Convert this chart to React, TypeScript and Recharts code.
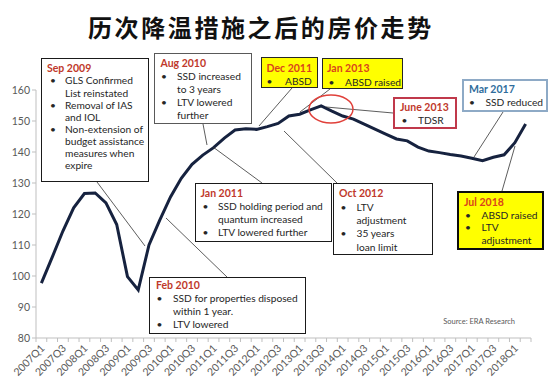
import { LineChart, Line, XAxis, YAxis } from 'recharts';

// quarterly index values, 2007Q1 .. 2018Q2
const quarters = [
  '2007Q1', '2007Q2', '2007Q3', '2007Q4',
  '2008Q1', '2008Q2', '2008Q3', '2008Q4',
  '2009Q1', '2009Q2', '2009Q3', '2009Q4',
  '2010Q1', '2010Q2', '2010Q3', '2010Q4',
  '2011Q1', '2011Q2', '2011Q3', '2011Q4',
  '2012Q1', '2012Q2', '2012Q3', '2012Q4',
  '2013Q1', '2013Q2', '2013Q3', '2013Q4',
  '2014Q1', '2014Q2', '2014Q3', '2014Q4',
  '2015Q1', '2015Q2', '2015Q3', '2015Q4',
  '2016Q1', '2016Q2', '2016Q3', '2016Q4',
  '2017Q1', '2017Q2', '2017Q3', '2017Q4',
  '2018Q1', '2018Q2',
];

const priceIndex = [
  97.7, 106, 114.5, 122,
  126.6, 126.8, 123.6, 116.6,
  99.8, 95.5, 110, 118,
  125.5, 131.5, 136, 139,
  141.4, 144.5, 147.1, 147.5,
  147.3, 148.2, 149.2, 151.6,
  152.2, 153.6, 154.9, 153.2,
  151.6, 150.6, 149, 147.4,
  145.8, 144.2, 143.6, 141.6,
  140.3, 139.8, 139.2, 138.7,
  138, 137.2, 138.3, 139.1,
  143, 149,
];

const yTicks = [80, 90, 100, 110, 120, 130, 140, 150, 160];

const data = quarters.map((q, i) => ({ q, value: priceIndex[i] }));

const W = 554;
const H = 385;
const PLOT_L = 36;
const PLOT_R = 531;
const BAND = (PLOT_R - PLOT_L) / quarters.length;

const FONT = 'Lato, "Open Sans", sans-serif';
const RED = '#c0392b';
const ORANGE = '#d9441c';

// custom x tick: tick mark at each category boundary, label every 2nd quarter
function QuarterTick({ x, y, payload, index }: any) {
  const i = payload?.index ?? index;
  const left = x - BAND / 2;
  const ax = x + 4;
  const ay = y + 11;
  return (
    <g>
      <line x1={left} y1={y} x2={left} y2={y + 4} stroke="#bfbfbf" />
      {i === quarters.length - 1 && (
        <line x1={x + BAND / 2} y1={y} x2={x + BAND / 2} y2={y + 4} stroke="#bfbfbf" />
      )}
      {i % 2 === 0 && (
        <text
          x={ax}
          y={ay}
          transform={`rotate(-45, ${ax}, ${ay})`}
          textAnchor="end"
          fontSize={10.5}
          fontFamily={FONT}
          fill="#595959"
        >
          {payload.value}
        </text>
      )}
    </g>
  );
}

interface Note {
  l: number; t: number; r: number; b: number;
  fill: string; border: string; bw: number;
  title: string; titleColor: string;
  tx: number; bx: number; x: number;
  y0: number; lh: number;
  lines: [string, string][];
}

const notes: Note[] = [
  {
    l: 41, t: 58, r: 149, b: 182, fill: '#fff', border: '#1a1a1a', bw: 1.5,
    title: 'Sep 2009', titleColor: RED, tx: 47, bx: 50, x: 65, y0: 68.3, lh: 12.1,
    lines: [['•', 'GLS Confirmed'], ['', 'List reinstated'], ['•', 'Removal of IAS'], ['', 'and IOL'],
      ['•', 'Non-extension of'], ['', 'budget assistance'], ['', 'measures when'], ['', 'expire']],
  },
  {
    l: 154, t: 53, r: 252, b: 124, fill: '#fff', border: '#595959', bw: 1,
    title: 'Aug 2010', titleColor: RED, tx: 160.5, bx: 161, x: 177, y0: 63, lh: 12.9,
    lines: [['•', 'SSD increased'], ['', 'to 3 years'], ['•', 'LTV lowered'], ['', 'further']],
  },
  {
    l: 261, t: 57, r: 318, b: 88, fill: '#ffff00', border: '#262626', bw: 1.5,
    title: 'Dec 2011', titleColor: ORANGE, tx: 266.5, bx: 266.5, x: 285, y0: 67.7, lh: 13.3,
    lines: [['•', 'ABSD']],
  },
  {
    l: 322, t: 58, r: 403, b: 89, fill: '#ffff00', border: '#262626', bw: 1.5,
    title: 'Jan 2013', titleColor: ORANGE, tx: 327, bx: 328.5, x: 345, y0: 68.3, lh: 13.4,
    lines: [['•', 'ABSD raised']],
  },
  {
    l: 393, t: 97, r: 457, b: 129, fill: '#fff', border: '#c0394b', bw: 2,
    title: 'June 2013', titleColor: RED, tx: 400, bx: 401.5, x: 418, y0: 106.7, lh: 13.3,
    lines: [['•', 'TDSR']],
  },
  {
    l: 462, t: 79, r: 548, b: 112, fill: '#fff', border: '#8eaac6', bw: 2,
    title: 'Mar 2017', titleColor: '#2f6d9c', tx: 469, bx: 469, x: 485.5, y0: 89.3, lh: 13,
    lines: [['•', 'SSD reduced']],
  },
  {
    l: 457, t: 191, r: 544, b: 250, fill: '#ffff00', border: '#0d0d0d', bw: 2.5,
    title: 'Jul 2018', titleColor: ORANGE, tx: 464, bx: 465, x: 481.5, y0: 201.7, lh: 12.8,
    lines: [['•', 'ABSD raised'], ['•', 'LTV'], ['', 'adjustment']],
  },
  {
    l: 195, t: 183, r: 332, b: 242, fill: '#fff', border: '#1a1a1a', bw: 1.5,
    title: 'Jan 2011', titleColor: RED, tx: 200.5, bx: 202.5, x: 218, y0: 193.3, lh: 13,
    lines: [['•', 'SSD holding period and'], ['', 'quantum increased'], ['•', 'LTV lowered further']],
  },
  {
    l: 333, t: 183, r: 433, b: 255, fill: '#fff', border: '#1a1a1a', bw: 1.5,
    title: 'Oct 2012', titleColor: RED, tx: 339, bx: 340.5, x: 356.5, y0: 193.3, lh: 13.3,
    lines: [['•', 'LTV'], ['', 'adjustment'], ['•', '35 years'], ['', 'loan limit']],
  },
  {
    l: 149, t: 277, r: 306, b: 334, fill: '#fff', border: '#1a1a1a', bw: 1.5,
    title: 'Feb 2010', titleColor: RED, tx: 156, bx: 156.5, x: 173, y0: 285, lh: 13.1,
    lines: [['•', 'SSD for properties disposed'], ['', 'within 1 year.'], ['•', 'LTV lowered']],
  },
];

// leader lines from each note to the curve
const leaders = [
  [97, 182, 145, 246],
  [203, 124, 207, 145],
  [292, 88, 259, 126],
  [330, 89, 300, 112],
  [393, 113, 326, 107],
  [503, 112, 474, 157],
  [502, 191, 515, 146],
  [262, 183, 213, 147],
  [337, 183, 284, 131],
  [227, 277, 166, 218],
];

function NoteBox({ n }: { n: Note }) {
  const row = (key: string, left: number, cy: number, text: string, color: string, bold = false) => (
    <div
      key={key}
      style={{
        position: 'absolute', left, top: cy - 7, height: 14, lineHeight: '14px',
        fontFamily: FONT, fontSize: bold ? 10.5 : 10.2, color, fontWeight: bold ? 700 : 400, whiteSpace: 'nowrap',
      }}
    >
      {text}
    </div>
  );
  return (
    <>
      <div
        style={{
          position: 'absolute', left: n.l, top: n.t, width: n.r - n.l, height: n.b - n.t,
          boxSizing: 'border-box', background: n.fill, border: `${n.bw}px solid ${n.border}`,
        }}
      />
      {row('t', n.tx, n.y0, n.title, n.titleColor, true)}
      {n.lines.map(([bullet, text], k) => (
        <span key={k}>
          {bullet && row(`b${k}`, n.bx, n.y0 + (k + 1) * n.lh, bullet, '#262626')}
          {row(`x${k}`, n.x, n.y0 + (k + 1) * n.lh, text, '#262626')}
        </span>
      ))}
    </>
  );
}

export default function App() {
  return (
    <div style={{ position: 'absolute', left: 0, top: 0, width: W, height: H, background: '#fff', overflow: 'hidden' }}>
      <div
        style={{
          position: 'absolute', left: 88, top: 14, height: 26, lineHeight: '26px',
          fontFamily: '"Noto Sans CJK SC", sans-serif', fontWeight: 700, fontSize: 24,
          letterSpacing: 2.6, color: '#111', whiteSpace: 'nowrap',
        }}
      >
        历次降温措施之后的房价走势
      </div>

      <div style={{ position: 'absolute', left: 0, top: 0 }}>
        <LineChart width={W} height={H} data={data} margin={{ top: 90, right: W - PLOT_R, left: PLOT_L - 30, bottom: 7 }}>
          <XAxis
            dataKey="q"
            interval={0}
            height={40}
            tickSize={0}
            tickMargin={0}
            tickLine={false}
            axisLine={{ stroke: '#bfbfbf' }}
            padding={{ left: BAND / 2, right: BAND / 2 }}
            tick={<QuarterTick />}
          />
          <YAxis
            width={30}
            domain={[80, 160]}
            ticks={yTicks}
            interval={0}
            tickSize={4}
            tickMargin={2}
            axisLine={{ stroke: '#bfbfbf' }}
            tickLine={{ stroke: '#bfbfbf' }}
            tick={{ fontSize: 10.5, fontFamily: FONT, fill: '#595959' }}
          />
          <Line
            type="linear"
            dataKey="value"
            stroke="#16223f"
            strokeWidth={3}
            dot={false}
            isAnimationActive={false}
          />
        </LineChart>
      </div>

      <svg width={W} height={H} style={{ position: 'absolute', left: 0, top: 0 }}>
        {leaders.map(([x1, y1, x2, y2], i) => (
          <line key={i} x1={x1} y1={y1} x2={x2} y2={y2} stroke="#333" strokeWidth={0.8} />
        ))}
        <ellipse cx={331} cy={109} rx={22} ry={14} fill="none" stroke="#e0403a" strokeWidth={1.5} />
      </svg>

      {notes.map((n, i) => (
        <NoteBox key={i} n={n} />
      ))}

      <div
        style={{
          position: 'absolute', right: W - 515, top: 317, fontFamily: FONT, fontSize: 7.5,
          color: '#595959', whiteSpace: 'nowrap',
        }}
      >
        Source: ERA Research
      </div>
    </div>
  );
}
